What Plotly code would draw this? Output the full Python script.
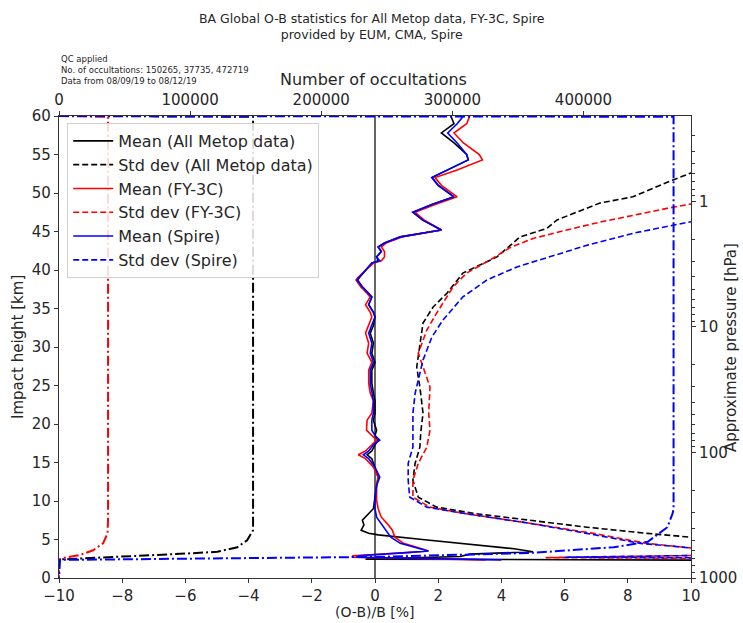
import plotly.graph_objects as go

# ---------------- data ----------------
# Mean (O-B)/B [%] profiles, heights in km
mean_h = [60, 59, 57.8, 56.5, 55, 54.3, 53, 52, 51, 49.5, 48.5, 47.5, 46.5, 45.2, 44.3, 43.5,
          43, 42.4, 41.7, 41.2, 40.9, 40, 39, 38.7, 37.8, 37.4, 36.5, 35.5, 34.5, 33.9, 32.8,
          31.8, 30.5, 29.2, 28, 27, 25.3, 24, 23, 21.4, 20.5, 19.2, 18.5, 17.9, 17.3, 16.5,
          16, 15.5, 14.4, 13.1, 12, 10.1, 9, 7.9, 7, 6.2, 5.3, 4.5, 3.9, 3.5, 3.3, 3.1, 2.9,
          2.7, 2.5, 2.35]
mean_spire = [2.8, 2.6, 2.3, 2.6, 2.9, 2.95, 2.3, 1.8, 2.0, 2.5, 1.8, 1.2, 1.5, 2.1, 0.8, 0.3,
              0.1, 0.2, 0.05, 0.15, -0.1, -0.3, -0.5, -0.57, -0.4, -0.3, -0.1, -0.2, -0.05, 0.0, -0.1,
              -0.2, -0.1, -0.15, -0.05, -0.15, -0.15, -0.1, -0.05, -0.05, -0.1, -0.1, 0.0, 0.15, -0.05, -0.2,
              -0.37, -0.2, 0.0, 0.15, 0.05, 0.0, 0.0, 0.05, 0.2, 0.35, 0.5, 0.8, 1.3, 1.68, 1.0, 0.2, -0.5,
              -0.6, 3.0, 4.0]
mean_fy3c = [3.0, 2.9, 2.5, 2.8, 3.3, 3.4, 2.6, 1.9, 2.1, 2.6, 1.9, 1.27, 1.55, 2.1, 0.85, 0.35,
             0.2, 0.3, 0.3, 0.2, -0.05, -0.3, -0.55, -0.6, -0.45, -0.35, -0.15, -0.3, -0.15, -0.1, -0.2,
             -0.3, -0.2, -0.25, -0.1, -0.2, -0.2, -0.15, -0.05, -0.1, -0.25, -0.27, -0.1, 0.05, -0.1, -0.3,
             -0.53, -0.3, -0.05, 0.1, 0.05, 0.05, 0.1, 0.2, 0.4, 0.55, 0.63, 0.9, 1.4, 1.7, 1.0, 0.0, -0.7,
             -0.73, 2.0, 3.5]

metop_h = [60, 59, 57.8, 56.5, 55, 54.3, 53, 52, 51, 49.5, 48.5, 47.5, 46.5, 45.2, 44.3, 43.5,
           43, 42.4, 41.7, 41.2, 40.9, 40, 39, 38.7, 37.8, 37.4, 36.5, 35.5, 34.5, 33.9, 32.8,
           31.8, 30.5, 29.2, 28, 27, 25.3, 24, 23, 21.4, 20.5, 19.2, 18.5, 17.9, 17.3, 16.5,
           16, 15.5, 14.4, 13.1, 12, 10.1, 9, 8.8, 8, 7.5, 6.9, 6.2, 5.8, 5.6, 5.0, 4.4, 3.8,
           3.4, 3.1, 2.8, 2.45, 2.3]
mean_metop = [2.4, 2.5, 2.1, 2.5, 2.9, 2.95, 2.3, 1.8, 2.0, 2.5, 1.8, 1.2, 1.5, 2.1, 0.8, 0.3,
              0.1, 0.2, 0.05, 0.1, -0.1, -0.3, -0.5, -0.55, -0.4, -0.3, -0.1, -0.2, -0.05, 0.0, -0.05,
              -0.15, -0.05, -0.1, 0.0, -0.1, -0.1, -0.05, 0.0, 0.0, -0.05, 0.05, 0.0, 0.1, 0.0, -0.1,
              -0.25, -0.1, 0.0, 0.1, 0.05, 0.0, -0.05, -0.1, -0.3, -0.4, -0.35, -0.44, -0.2, 0.1, 1.5, 3.0, 4.4,
              5.0, 3.0, 2.7, -0.3, 12.0]

# Std dev (O-B)/B [%] profiles
std_metop_h = [54, 52.6, 51.7, 49.5, 48.7, 47.5, 46.5, 45.4, 44.3, 41.7, 39.6, 37, 35.2, 33.1, 30,
               27.4, 24.8, 21.4, 19, 17, 14.9, 12.7, 10.5, 9.2, 8.4, 7.5, 6.6, 5.8, 5.3, 4.5]
std_metop = [11.5, 10.0, 9.43, 8.16, 7.12, 6.39, 5.76, 5.44, 4.59, 3.86, 2.78, 2.28, 1.84, 1.52, 1.42,
             1.32, 1.42, 1.52, 1.45, 1.42, 1.27, 1.2, 1.37, 1.95, 3.1, 4.9, 6.7, 8.6, 10.0, 11.5]
std_fy3c_h = [50, 48.8, 48, 47.1, 46.2, 45.2, 44.1, 42.9, 41.3, 39.6, 37.8, 34.4, 32.2, 29.2, 24.8,
              21.4, 19.2, 17, 14.9, 12.7, 10.5, 9.2, 8.4, 7.1, 5.8, 4.5, 3.9, 3.0, 2.65, 2.55]
std_fy3c = [11.5, 10.3, 9.24, 8.2, 7.1, 6.07, 5.0, 4.27, 3.64, 2.9, 2.47, 1.95, 1.64, 1.37, 1.74,
            1.7, 1.74, 1.64, 1.37, 1.2, 1.2, 1.74, 2.8, 4.9, 6.9, 8.6, 10.0, 11.5, 5.4, 11.0]
std_spire_h = [47.5, 46.5, 45.8, 44.8, 43.2, 41.7, 40.4, 38.7, 36.5, 33.5, 31.3, 28.3, 24, 21.4,
               17, 14.9, 12.7, 10.5, 9.2, 8.4, 7.1, 5.8, 4.5, 3.9, 3.0, 2.7, 2.6]
std_spire = [11.5, 10.3, 9.43, 8.2, 6.7, 5.54, 4.49, 3.54, 2.78, 2.15, 1.8, 1.52, 1.27, 1.2,
             1.2, 1.05, 1.05, 1.1, 1.64, 2.8, 4.9, 6.7, 8.4, 10.0, 11.5, 6.0, 11.0]

# Number of occultations per height
cnt_metop_h = [60, 59.9, 6.2, 4.9, 4.0, 3.4, 3.2, 3.0, 2.7, 2.4, 0]
cnt_metop = [0, 148000, 148000, 143500, 136000, 120600, 100000, 74800, 36600, 0, 0]
cnt_fy3c_h = [60, 59.9, 7.5, 5.8, 4.5, 3.6, 3.0, 2.6, 2.4, 0]
cnt_fy3c = [0, 37400, 37400, 37000, 33600, 26000, 16000, 3000, 0, 0]
cnt_spire_h = [60, 59.9, 9, 8.4, 6.6, 5.8, 4.7, 4.0, 3.6, 3.25, 2.75, 2.35, 0]
cnt_spire = [0, 468700, 468700, 468000, 464000, 458000, 449000, 423000, 388000, 359500, 245000, 800, 0]

x_ticks = [-10, -8, -6, -4, -2, 0, 2, 4, 6, 8, 10]
h_ticks = [0, 5, 10, 15, 20, 25, 30, 35, 40, 45, 50, 55, 60]
cnt_ticks = [0, 100000, 200000, 300000, 400000]
p_ticks = [1, 10, 100, 1000]
p_minor = [0.3, 0.4, 0.5, 0.6, 0.7, 0.8, 0.9, 2, 3, 4, 5, 6, 7, 8, 9,
           20, 30, 40, 50, 60, 70, 80, 90, 200, 300, 400, 500, 600, 700, 800, 900]

BLACK, RED, BLUE = "#000000", "#ff0000", "#0000ff"
FONT = "DejaVu Sans"
TXT = "#262626"
DASH = "6px,3px"
DASHDOT = "10px,3px,2px,3px"

fig = go.Figure()

# zero line
fig.add_trace(go.Scatter(x=[0, 0], y=[0, 60], mode="lines", line=dict(color="#333333", width=1.5),
                         showlegend=False, hoverinfo="skip"))

fig.add_trace(go.Scatter(x=mean_metop, y=metop_h, mode="lines", name="Mean (All Metop data)",
                         line=dict(color=BLACK, width=1.6)))
fig.add_trace(go.Scatter(x=std_metop, y=std_metop_h, mode="lines", name="Std dev (All Metop data)",
                         line=dict(color=BLACK, width=1.6, dash=DASH)))
fig.add_trace(go.Scatter(x=mean_fy3c, y=mean_h, mode="lines", name="Mean (FY-3C)",
                         line=dict(color=RED, width=1.6)))
fig.add_trace(go.Scatter(x=std_fy3c, y=std_fy3c_h, mode="lines", name="Std dev (FY-3C)",
                         line=dict(color=RED, width=1.6, dash=DASH)))
fig.add_trace(go.Scatter(x=mean_spire, y=mean_h, mode="lines", name="Mean (Spire)",
                         line=dict(color=BLUE, width=1.6)))
fig.add_trace(go.Scatter(x=std_spire, y=std_spire_h, mode="lines", name="Std dev (Spire)",
                         line=dict(color=BLUE, width=1.6, dash=DASH)))

# counts on top axis
for xs, hs, c in [(cnt_metop, cnt_metop_h, BLACK), (cnt_fy3c, cnt_fy3c_h, RED), (cnt_spire, cnt_spire_h, BLUE)]:
    fig.add_trace(go.Scatter(x=xs, y=hs, xaxis="x2", yaxis="y", mode="lines", showlegend=False,
                             line=dict(color=c, width=2, dash=DASHDOT), hoverinfo="skip"))

# invisible trace to carry the pressure axis
fig.add_trace(go.Scatter(x=[-10, -10], y=[1000, 0.21], xaxis="x", yaxis="y3", mode="lines",
                         line=dict(width=0, color="rgba(0,0,0,0)"), showlegend=False, hoverinfo="skip"))

axis_common = dict(showline=True, linecolor="#333333", linewidth=1.2, ticks="outside", ticklen=4,
                   tickcolor="#333333", showgrid=False, zeroline=False, automargin=False,
                   tickfont=dict(family=FONT, size=15, color=TXT))

fig.update_layout(
    width=743, height=623,
    margin=dict(l=59, r=52, t=116, b=45),
    paper_bgcolor="white", plot_bgcolor="white",
    font=dict(family=FONT, color=TXT),
    xaxis=dict(range=[-10, 10], tickvals=x_ticks, **axis_common),
    xaxis2=dict(range=[0, 482000], overlaying="x", side="top", anchor="y", tickvals=cnt_ticks,
                tickformat="d", **axis_common),
    yaxis=dict(range=[0, 60], tickvals=h_ticks, **axis_common),
    yaxis3=dict(type="log", overlaying="y", side="right", anchor="x",
                range=[3, -0.68], tickvals=p_ticks, ticktext=["1", "10", "100", "1000"],
                minor=dict(tickvals=p_minor, ticks="outside", ticklen=2.5, tickcolor="#333333"),
                **axis_common),
    legend=dict(x=0.013, y=0.985, xanchor="left", yanchor="top", itemwidth=40,
                bgcolor="rgba(255,255,255,0.85)", bordercolor="#d0d0d0", borderwidth=1,
                font=dict(family=FONT, size=16, color=TXT)),
    showlegend=True,
)

ann = [
    dict(text="BA Global O-B statistics for All Metop data, FY-3C, Spire<br>provided by EUM, CMA, Spire",
         x=0.495, y=(578 - 26) / 462, font=dict(size=12.5, family=FONT, color=TXT)),
    dict(text="QC applied<br>No. of occultations: 150265, 37735, 472719<br>Data from 08/09/19 to 08/12/19",
         x=0.0, y=(578 - 70) / 462, xanchor="left", align="left",
         font=dict(size=8.5, family=FONT, color=TXT)),
    dict(text="Number of occultations", x=0.497, y=(578 - 80) / 462,
         font=dict(size=16, family=FONT, color=TXT)),
    dict(text="(O-B)/B [%]", x=0.5, y=-(612 - 578) / 462, font=dict(size=14, family=FONT, color=TXT)),
    dict(text="Impact height [km]", x=-(59 - 18) / 632, y=0.5, textangle=-90,
         font=dict(size=15, family=FONT, color=TXT)),
    dict(text="Approximate pressure [hPa]", x=1 + (731 - 691) / 632, y=0.5, textangle=-90,
         font=dict(size=15, family=FONT, color=TXT)),
]
for a in ann:
    a.setdefault("xanchor", "center")
    a.setdefault("yanchor", "middle")
    fig.add_annotation(xref="paper", yref="paper", showarrow=False, **a)

fig.write_html("out.html")
